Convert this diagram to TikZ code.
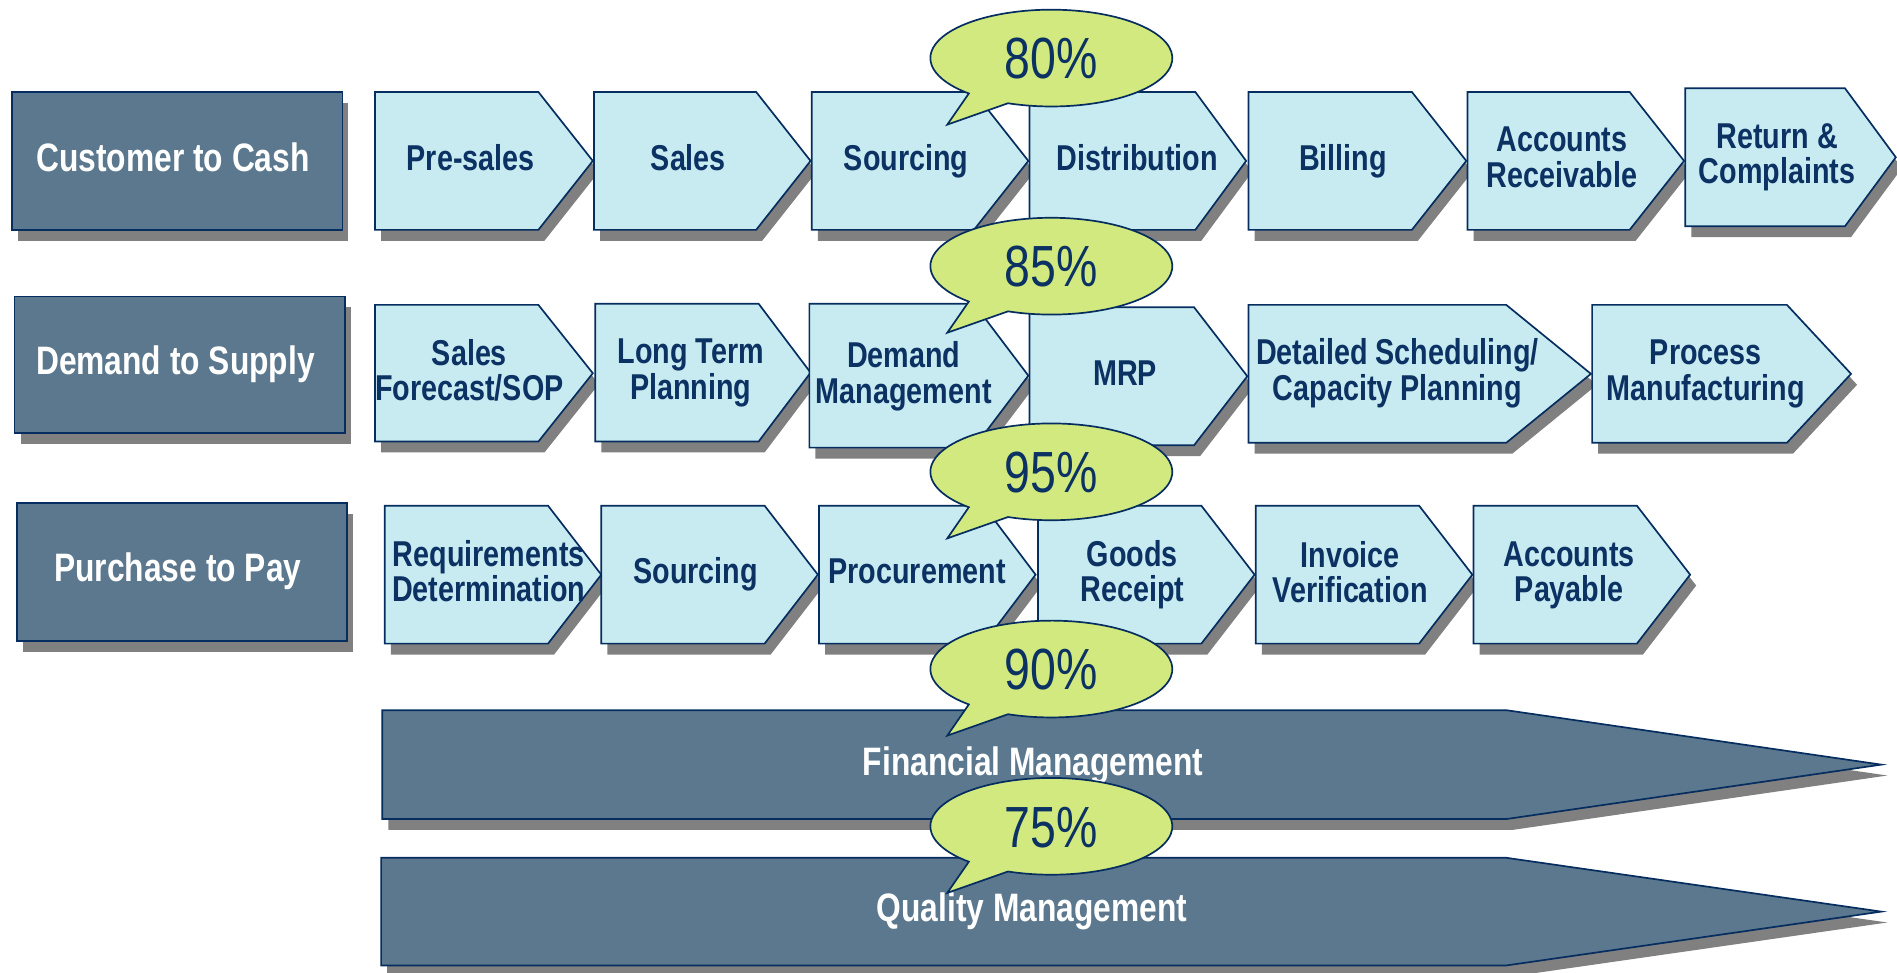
\documentclass[tikz,border=0pt]{standalone}
\usepackage{fontspec}
\setmainfont{Liberation Sans}[FakeStretch=0.8]
\definecolor{hdr}{RGB}{92,120,142}
\definecolor{chev}{RGB}{200,235,241}
\definecolor{navy}{RGB}{6,45,95}
\definecolor{txt}{RGB}{12,50,100}
\definecolor{shad}{RGB}{128,128,128}
\definecolor{bubble}{RGB}{209,233,126}
\newcommand\Chev[6][chevbox]{%
  \fill[shad, shift={(5,-9)}] (#2,-#5) -- (#3,-#5) -- (#4,{-(#5+#6)/2}) -- (#3,-#6) -- (#2,-#6) -- cycle;
  \draw[#1] (#2,-#5) -- (#3,-#5) -- (#4,{-(#5+#6)/2}) -- (#3,-#6) -- (#2,-#6) -- cycle;}
\newcommand\Hdr[4]{%
  \fill[shad, shift={(5,-9)}] (#1,-#3) rectangle (#2,-#4);
  \draw[hdrbox] (#1,-#3) rectangle (#2,-#4);}
\newcommand\Bubble[2]{%
  \draw[bubblestyle] (#1,-#2) ++(249:100 and 40) arc[start angle=249, end angle=587, x radius=100, y radius=40] -- ({#1-86},{-#2-55}) -- cycle;}
\begin{document}
\begin{tikzpicture}[x=1pt,y=1pt,
  hdrbox/.style={fill=hdr, draw=navy, line width=1.4pt},
  chevbox/.style={fill=chev, draw=navy, line width=1.4pt},
  bubblestyle/.style={fill=bubble, draw=navy, line width=1.4pt},
  hdrtext/.style={text=white, font=\fontsize{32.8}{34}\selectfont\bfseries, align=center, inner sep=0pt, text height=23.5pt, text depth=0pt},
  chevtext/.style={text=txt, font=\fontsize{29.7}{29.5}\selectfont\bfseries, align=center, inner sep=0pt},
  oneline/.style={text height=21.3pt, text depth=0pt},
  pcttext/.style={text=txt, font=\fontsize{48}{50}\selectfont, inner sep=0pt, text height=34.4pt, text depth=0pt}]
\useasboundingbox (0,0) rectangle (1568,-804);

% Row 1
\Hdr{10}{283}{76}{190}
\Chev{310}{445}{490}{76}{190}
\Chev{491}{625}{670}{76}{190}
\Chev{671}{805}{850}{76}{190}
\Chev{851}{988}{1030}{76}{190}
\Chev{1032}{1167}{1212}{76}{190}
\Chev{1213}{1347}{1392}{76}{190}
\Chev{1393}{1525}{1567}{73}{187}
\node[hdrtext] (c2c) at (143,-130) {Customer to Cash};
\node[chevtext, oneline] (presales) at (389,-130) {Pre-sales};
\node[chevtext, oneline] (sales) at (569,-130) {Sales};
\node[chevtext, oneline] (sourcing1) at (749,-130) {Sourcing};
\node[chevtext, oneline] (distribution) at (940,-130) {Distribution};
\node[chevtext, oneline] (billing) at (1110,-130) {Billing};
\node[chevtext] (ar) at (1291,-130) {Accounts\\Receivable};
\node[chevtext] (return) at (1469,-130) {Return \&\\Complaints};

% Row 2
\Hdr{12}{285}{245}{358}
\Chev{310}{445}{490}{252}{365}
\Chev{492}{627}{670}{251}{365}
\Chev{669}{805}{850}{251}{370}
\Chev{851}{987}{1031}{254}{368}
\Chev{1032}{1245}{1315}{252}{366}
\Chev{1316}{1477}{1530}{252}{366}
\node[hdrtext] (d2s) at (145,-298) {Demand to Supply};
\node[chevtext] (forecast) at (388,-306) {Sales\\Forecast/SOP};
\node[chevtext] (ltp) at (571,-308) {Long Term\\Planning};
\node[chevtext] (dm) at (747,-311) {Demand\\Management};
\node[chevtext] (mrp) at (930,-308) [oneline] {MRP};
\node[chevtext] (sched) at (1155,-308.5) {Detailed Scheduling/\\Capacity Planning};
\node[chevtext] (pm) at (1410,-309) {Process\\Manufacturing};

% Row 3
\Hdr{14}{287}{416}{530}
\Chev{318}{453}{497}{418}{532}
\Chev{497}{632}{676}{418}{532}
\Chev{677}{813}{856}{418}{532}
\Chev{858}{993}{1037}{418}{532}
\Chev{1038}{1173}{1217}{418}{532}
\Chev{1218}{1353}{1397}{418}{532}
\node[hdrtext] (p2p) at (147,-469) {Purchase to Pay};
\node[chevtext] (reqdet) at (404,-472) {Requirements\\Determination};
\node[chevtext, oneline] (sourcing3) at (575,-472) {Sourcing};
\node[chevtext, oneline] (procurement) at (758,-472) {Procurement};
\node[chevtext] (gr) at (936,-475) {Goods\\Receipt};
\node[chevtext] (iv) at (1116,-473) {Invoice\\Verification};
\node[chevtext] (ap) at (1297,-475.5) {Accounts\\Payable};

% Bands
\Chev[hdrbox]{316}{1245}{1555}{587}{677}
\Chev[hdrbox]{315}{1245}{1555}{709}{798}
\node[hdrtext] (fin) at (854,-629) {Financial Management};
\node[hdrtext] (qm) at (853,-750) {Quality Management};

% Bubbles
\Bubble{869}{48}
\Bubble{869}{220}
\Bubble{869}{390}
\Bubble{869}{553}
\Bubble{869}{683}
\node[pcttext] (p80) at (869,-48) {80\%};
\node[pcttext] (p85) at (869,-220) {85\%};
\node[pcttext] (p95) at (869,-390) {95\%};
\node[pcttext] (p90) at (869,-553) {90\%};
\node[pcttext] (p75) at (869,-683) {75\%};
\end{tikzpicture}
\end{document}
